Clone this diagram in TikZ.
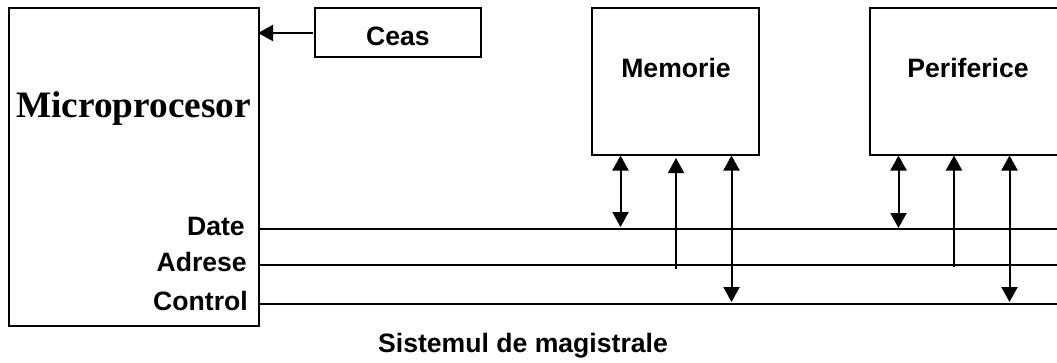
\documentclass[tikz,border=0pt]{standalone}
\usepackage{fontspec}
\setmainfont{Liberation Sans}
\newfontfamily\serifbold{Liberation Serif}[BoldFont={Liberation Serif Bold}]
\usetikzlibrary{arrows.meta,calc}
\tikzset{
  x=1pt,y=-1pt,
  block/.style={draw=black,line width=2pt,fill=none,inner sep=0pt,outer sep=0pt,anchor=north west},
  lbl/.style={inner sep=0pt,font=\fontsize{26.6}{29}\selectfont\bfseries},
  bus/.style={draw=black,line width=1.8pt},
  tip/.style={draw=black,line width=2pt,-{Triangle[length=15pt,width=16pt]}},
  tiptwo/.style={draw=black,line width=2pt,{Triangle[length=15pt,width=16pt]}-{Triangle[length=15pt,width=16pt]}},
}
\begin{document}
\begin{tikzpicture}
\useasboundingbox (0,0) rectangle (1057,362);
\clip (0,0) rectangle (1057,362);
\node[block,minimum width=250pt,minimum height=318pt] (cpu) at (9.2,8) {};
\node[block,minimum width=166.5pt,minimum height=49pt] (ceas) at (314.8,8) {};
\node[block,minimum width=166.5pt,minimum height=147pt] (mem) at (592.2,8) {};
\node[block,minimum width=190pt,minimum height=147pt] (per) at (870,8) {};
\node[lbl,anchor=base] (tc) at (398,45) {Ceas};
\node[lbl,anchor=base] (tm) at (676,77) {Memorie};
\node[lbl,anchor=base] (tp) at (968,77) {Periferice};
\node[inner sep=0pt,anchor=base,font=\fontsize{37.3}{40}\serifbold\bfseries] (tu) at (133.5,117) {Microprocesor};
\node[lbl,anchor=base east] (td) at (245,235) {Date};
\node[lbl,anchor=base east] (ta) at (247,271) {Adrese};
\node[lbl,anchor=base east] (tk) at (248,310) {Control};
\node[lbl,anchor=base] (ts) at (523,352) {Sistemul de magistrale};
% bus ends
\coordinate (d0) at (259.5,228.8); \coordinate (d1) at (1057,228.8);
\coordinate (a0) at (259.5,265);   \coordinate (a1) at (1057,265);
\coordinate (c0) at (259.5,304);   \coordinate (c1) at (1057,304);
\draw[bus] (d0) -- (d1);
\draw[bus] (a0) -- (a1);
\draw[bus] (c0) -- (c1);
% clock arrow
\coordinate (k0) at (313,33); \coordinate (k1) at (258,33);
\draw[tip] (k0) -- (k1);
% memory connectors
\coordinate (m1t) at (620.5,155.5); \coordinate (m1b) at (620.5,227);
\coordinate (m2t) at (676,158);     \coordinate (m2b) at (676,268.5);
\coordinate (m3t) at (731.5,155.5); \coordinate (m3b) at (731.5,302);
\draw[tiptwo] (m1t) -- (m1b);
\draw[tip] (m2b) -- (m2t);
\draw[tiptwo] (m3t) -- (m3b);
% peripheral connectors
\coordinate (p1t) at (898.5,155.5); \coordinate (p1b) at (898.5,228);
\coordinate (p2t) at (954,155.5);   \coordinate (p2b) at (954,267);
\coordinate (p3t) at (1009.5,155.5);\coordinate (p3b) at (1009.5,302);
\draw[tiptwo] (p1t) -- (p1b);
\draw[tip] (p2b) -- (p2t);
\draw[tiptwo] (p3t) -- (p3b);
\end{tikzpicture}
\end{document}
